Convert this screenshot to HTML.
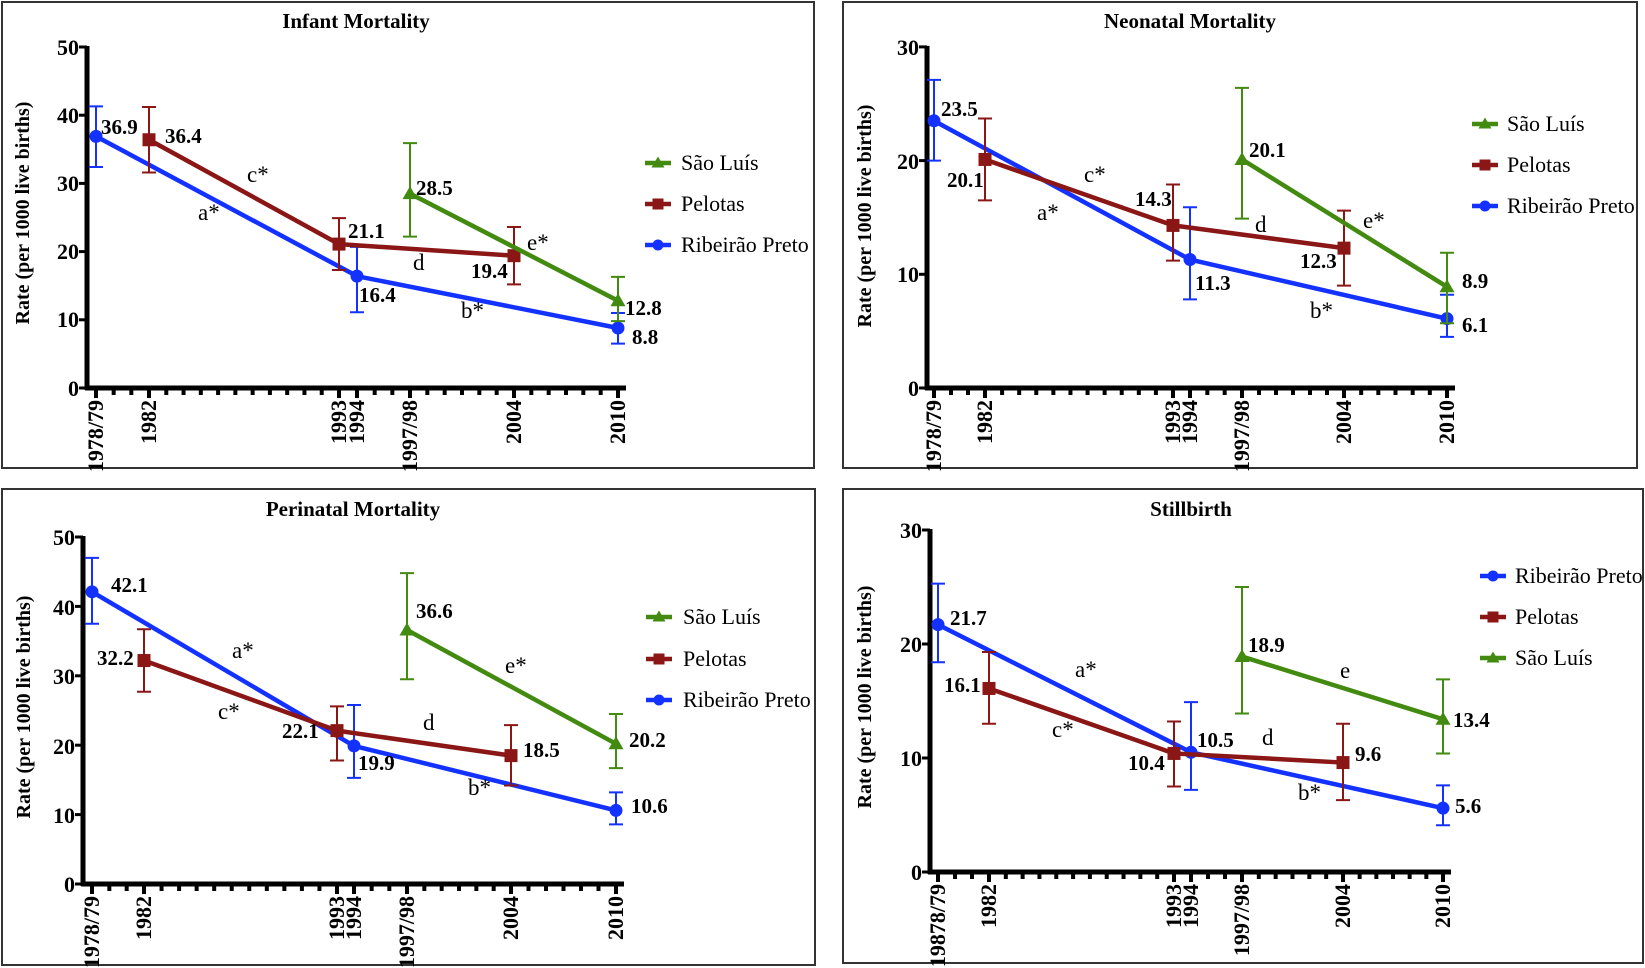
<!DOCTYPE html>
<html><head><meta charset="utf-8"><style>
body{margin:0;background:#fff}
svg{display:block;font-family:"Liberation Serif","Noto Serif CJK SC","DejaVu Serif",serif}
svg text{font-family:"Liberation Serif","Noto Serif CJK SC","DejaVu Serif",serif}
.b{font-weight:bold;font-size:21px}
.t{font-weight:bold;font-size:22px}
.l{font-size:23px}
.lg{font-size:22px}
.ti{font-weight:bold;font-size:21px}
.ax{font-weight:bold;font-size:20px}
</style></head><body>
<svg id="s" width="1645" height="968" xmlns="http://www.w3.org/2000/svg">
<rect x="2" y="2" width="812" height="466" fill="none" stroke="#333" stroke-width="2"/>
<rect x="843" y="2" width="794" height="466" fill="none" stroke="#333" stroke-width="2"/>
<rect x="2" y="489" width="813" height="476" fill="none" stroke="#333" stroke-width="2"/>
<rect x="843" y="489" width="800" height="474" fill="none" stroke="#333" stroke-width="2"/>
<g id="g"></g>
<text class="ti" x="356" y="28" text-anchor="middle">Infant Mortality</text>
<text class="ti" x="1190" y="28" text-anchor="middle">Neonatal Mortality</text>
<text class="ti" x="353" y="516" text-anchor="middle">Perinatal Mortality</text>
<text class="ti" x="1191" y="516" text-anchor="middle">Stillbirth</text>
<text class="ax" transform="translate(29,213) rotate(-90)" text-anchor="middle">Rate (per 1000 live births)</text>
<text class="ax" transform="translate(871,216) rotate(-90)" text-anchor="middle">Rate (per 1000 live births)</text>
<text class="ax" transform="translate(30,707) rotate(-90)" text-anchor="middle">Rate (per 1000 live births)</text>
<text class="ax" transform="translate(871,697) rotate(-90)" text-anchor="middle">Rate (per 1000 live births)</text>
<g class="t" text-anchor="end">
<text x="79" y="55">50</text><text x="79" y="123">40</text><text x="79" y="191">30</text><text x="79" y="259">20</text><text x="79" y="327">10</text><text x="79" y="396">0</text>
<text x="919" y="55">30</text><text x="919" y="169">20</text><text x="919" y="282">10</text><text x="919" y="396">0</text>
<text x="75" y="545">50</text><text x="75" y="615">40</text><text x="75" y="684">30</text><text x="75" y="754">20</text><text x="75" y="823">10</text><text x="75" y="892">0</text>
<text x="922" y="538">30</text><text x="922" y="652">20</text><text x="922" y="766">10</text><text x="922" y="880">0</text>
</g>
<g class="t" text-anchor="end">
<text transform="translate(103,400) rotate(-90)">1978/79</text>
<text transform="translate(156,400) rotate(-90)">1982</text>
<text transform="translate(346,400) rotate(-90)">1993</text>
<text transform="translate(364,400) rotate(-90)">1994</text>
<text transform="translate(417,400) rotate(-90)">1997/98</text>
<text transform="translate(521,400) rotate(-90)">2004</text>
<text transform="translate(625,400) rotate(-90)">2010</text>

<text transform="translate(941,400) rotate(-90)">1978/79</text>
<text transform="translate(992,400) rotate(-90)">1982</text>
<text transform="translate(1180,400) rotate(-90)">1993</text>
<text transform="translate(1197,400) rotate(-90)">1994</text>
<text transform="translate(1249,400) rotate(-90)">1997/98</text>
<text transform="translate(1351,400) rotate(-90)">2004</text>
<text transform="translate(1454,400) rotate(-90)">2010</text>

<text transform="translate(99,896) rotate(-90)">1978/79</text>
<text transform="translate(151,896) rotate(-90)">1982</text>
<text transform="translate(344,896) rotate(-90)">1993</text>
<text transform="translate(361,896) rotate(-90)">1994</text>
<text transform="translate(414,896) rotate(-90)">1997/98</text>
<text transform="translate(518,896) rotate(-90)">2004</text>
<text transform="translate(623,896) rotate(-90)">2010</text>

<text transform="translate(945,884) rotate(-90)">19878/79</text>
<text transform="translate(996,884) rotate(-90)">1982</text>
<text transform="translate(1181,884) rotate(-90)">1993</text>
<text transform="translate(1198,884) rotate(-90)">1994</text>
<text transform="translate(1249,884) rotate(-90)">1997/98</text>
<text transform="translate(1350,884) rotate(-90)">2004</text>
<text transform="translate(1450,884) rotate(-90)">2010</text>
</g>
<g class="b">
<text x="101" y="134">36.9</text><text x="165" y="143">36.4</text><text x="348" y="238">21.1</text><text x="359" y="302">16.4</text>
<text x="416" y="195">28.5</text><text x="471" y="278">19.4</text><text x="625" y="315">12.8</text><text x="632" y="344">8.8</text>

<text x="941" y="116">23.5</text><text x="947" y="187">20.1</text><text x="1135" y="206">14.3</text><text x="1195" y="290">11.3</text>
<text x="1249" y="157">20.1</text><text x="1300" y="268">12.3</text><text x="1462" y="288">8.9</text><text x="1462" y="332">6.1</text>

<text x="111" y="592">42.1</text><text x="97" y="665">32.2</text><text x="282" y="738">22.1</text><text x="358" y="770">19.9</text>
<text x="416" y="618">36.6</text><text x="523" y="757">18.5</text><text x="629" y="747">20.2</text><text x="631" y="813">10.6</text>

<text x="950" y="625">21.7</text><text x="944" y="692">16.1</text><text x="1128" y="770">10.4</text><text x="1197" y="747">10.5</text>
<text x="1248" y="652">18.9</text><text x="1355" y="761">9.6</text><text x="1453" y="727">13.4</text><text x="1455" y="813">5.6</text>
</g>
<g class="l">
<text x="247" y="182">c*</text><text x="198" y="220">a*</text><text x="413" y="270">d</text><text x="527" y="250">e*</text><text x="461" y="318">b*</text>
<text x="1084" y="182">c*</text><text x="1037" y="220">a*</text><text x="1255" y="232">d</text><text x="1363" y="228">e*</text><text x="1310" y="318">b*</text>
<text x="232" y="658">a*</text><text x="218" y="719">c*</text><text x="423" y="730">d</text><text x="505" y="673">e*</text><text x="468" y="795">b*</text>
<text x="1075" y="677">a*</text><text x="1052" y="737">c*</text><text x="1262" y="745">d</text><text x="1340" y="678">e</text><text x="1298" y="800">b*</text>
</g>
<g class="lg">
<text x="681" y="170">São Luís</text><text x="681" y="211">Pelotas</text><text x="681" y="252">Ribeirão Preto</text>
<text x="1507" y="131">São Luís</text><text x="1507" y="172">Pelotas</text><text x="1507" y="213">Ribeirão Preto</text>
<text x="683" y="624">São Luís</text><text x="683" y="666">Pelotas</text><text x="683" y="707">Ribeirão Preto</text>
<text x="1515" y="583">Ribeirão Preto</text><text x="1515" y="624">Pelotas</text><text x="1515" y="665">São Luís</text>
</g>
</svg>
<script>
var B="#1432ff",R="#8b1616",G="#428a10";
var P=[
{ax:87,y0:388,ppu:6.82,max:50,xs:[96,149,339,357,410,514,618],xe:626,
 s:[[B,"c",[[0,36.9,32.4,41.3],[3,16.4,11.1,20.7],[6,8.8,6.5,11]]],
    [R,"s",[[1,36.4,31.6,41.2],[2,21.1,17.3,24.9],[5,19.4,15.2,23.6]]],
    [G,"t",[[4,28.5,22.2,35.9],[6,12.8,9.8,16.3]]]],
 lg:[[645,163,G,"t"],[645,204,R,"s"],[645,245,B,"c"]]},
{ax:927,y0:388,ppu:11.37,max:30,xs:[934,985,1173,1190,1242,1344,1447],xe:1455,
 s:[[B,"c",[[0,23.5,20,27.1],[3,11.3,7.8,15.9],[6,6.1,4.5,8.2]]],
    [R,"s",[[1,20.1,16.5,23.7],[2,14.3,11.2,17.9],[5,12.3,9,15.6]]],
    [G,"t",[[4,20.1,14.9,26.4],[6,8.9,5.7,11.9]]]],
 lg:[[1472,124,G,"t"],[1472,165,R,"s"],[1472,206,B,"c"]]},
{ax:83,y0:884,ppu:6.94,max:50,xs:[92,144,337,354,407,511,616],xe:624,
 s:[[B,"c",[[0,42.1,37.5,47],[3,19.9,15.3,25.8],[6,10.6,8.6,13.2]]],
    [R,"s",[[1,32.2,27.7,36.7],[2,22.1,17.8,25.6],[5,18.5,14.2,22.9]]],
    [G,"t",[[4,36.6,29.5,44.8],[6,20.2,16.7,24.5]]]],
 lg:[[646,617,G,"t"],[646,659,R,"s"],[646,700,B,"c"]]},
{ax:930,y0:872,ppu:11.4,max:30,xs:[938,989,1174,1191,1242,1343,1443],xe:1451,
 s:[[B,"c",[[0,21.7,18.4,25.3],[3,10.5,7.2,14.9],[6,5.6,4.1,7.6]]],
    [R,"s",[[1,16.1,13,19.3],[2,10.4,7.5,13.2],[5,9.6,6.3,13]]],
    [G,"t",[[4,18.9,13.9,25],[6,13.4,10.4,16.9]]]],
 lg:[[1480,576,B,"c"],[1480,617,R,"s"],[1480,658,G,"t"]]}
];
function mk(t,x,y,c,r){r=r||6.5;
 if(t=="c")return '<circle cx="'+x+'" cy="'+y+'" r="'+r+'" fill="'+c+'"/>';
 if(t=="s")return '<rect x="'+(x-r)+'" y="'+(y-r)+'" width="'+2*r+'" height="'+2*r+'" fill="'+c+'"/>';
 return '<polygon points="'+x+','+(y-r-1)+' '+(x-r-1)+','+(y+r-1)+' '+(x+r+1)+','+(y+r-1)+'" fill="'+c+'"/>';}
var h="",N=[3,11,1,3,6,6];
P.forEach(function(p){
 var Y=function(v){return p.y0-v*p.ppu;};
 h+='<line x1="'+p.ax+'" y1="'+(Y(p.max)-1)+'" x2="'+p.ax+'" y2="'+(p.y0+2)+'" stroke="#000" stroke-width="5"/>';
 h+='<line x1="'+(p.ax-2)+'" y1="'+p.y0+'" x2="'+p.xe+'" y2="'+p.y0+'" stroke="#000" stroke-width="5"/>';
 for(var v=0;v<=p.max;v+=10)h+='<line x1="'+(p.ax-8)+'" y1="'+Y(v)+'" x2="'+p.ax+'" y2="'+Y(v)+'" stroke="#000" stroke-width="3"/>';
 for(var i=0;i<6;i++){var a=p.xs[i],b=p.xs[i+1];for(var k=0;k<N[i];k++){var x=a+(b-a)*k/N[i];
  h+='<line x1="'+x+'" y1="'+p.y0+'" x2="'+x+'" y2="'+(p.y0+(k==0?10:7))+'" stroke="#000" stroke-width="4"/>';}}
 h+='<line x1="'+p.xs[6]+'" y1="'+p.y0+'" x2="'+p.xs[6]+'" y2="'+(p.y0+10)+'" stroke="#000" stroke-width="4"/>';
 p.s.forEach(function(s){
  var c=s[0],pts=s[2];
  pts.forEach(function(q){var x=p.xs[q[0]];
   h+='<path d="M'+x+' '+Y(q[2])+'V'+Y(q[3])+'M'+(x-7)+' '+Y(q[2])+'h14M'+(x-7)+' '+Y(q[3])+'h14" stroke="'+c+'" stroke-width="2" fill="none"/>';});
  h+='<polyline points="'+pts.map(function(q){return p.xs[q[0]]+','+Y(q[1]);}).join(' ')+'" fill="none" stroke="'+c+'" stroke-width="4.5" stroke-linejoin="round"/>';
  pts.forEach(function(q){h+=mk(s[1],p.xs[q[0]],Y(q[1]),c);});
 });
 p.lg.forEach(function(l){h+='<line x1="'+l[0]+'" y1="'+l[1]+'" x2="'+(l[0]+26)+'" y2="'+l[1]+'" stroke="'+l[2]+'" stroke-width="4.5"/>'+mk(l[3],l[0]+13,l[1],l[2],5.5);});
});
document.getElementById("g").innerHTML=h;
</script>
</body></html>
